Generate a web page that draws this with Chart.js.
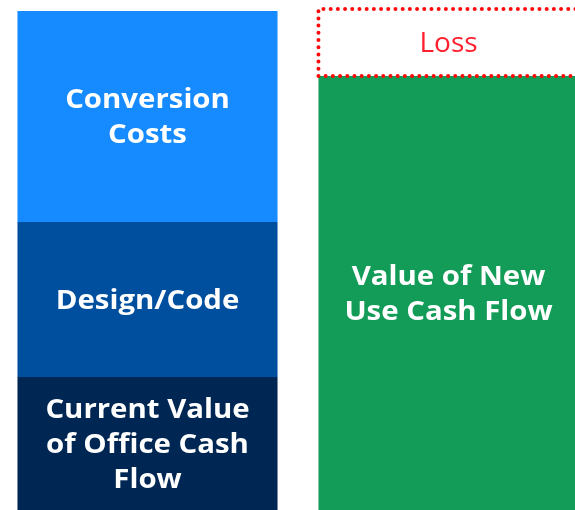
<!DOCTYPE html>
<html>
<head>
<meta charset="utf-8">
<script src="https://cdn.jsdelivr.net/npm/chart.js@4"></script>
<style>
  html, body { margin: 0; padding: 0; background: #fff; overflow: hidden; }
  #wrap { position: absolute; left: -3px; top: 0; width: 602px; height: 510px; }
</style>
</head>
<body>
<div id="wrap"><canvas id="myChart" width="602" height="510"></canvas></div>
<script>
const categories = ['Office Building', 'Converted Use'];

const officeCashFlow = [133, null];
const designCode = [155, null];
const conversionCosts = [211, null];
const newUseCashFlow = [null, 434];
const loss = [null, 67];

const segmentLabels = [
  ['Current Value', 'of Office Cash', 'Flow'],
  ['Design/Code'],
  ['Conversion', 'Costs'],
  ['Value of New', 'Use Cash Flow'],
  ['Loss']
];

// writes the segment names inside the bars and draws the dotted box round the loss
const barText = {
  id: 'barText',
  afterDatasetsDraw(chart) {
    const c = chart.ctx;
    chart.data.datasets.forEach((ds, i) => {
      const meta = chart.getDatasetMeta(i);
      meta.data.forEach((bar, j) => {
        if (ds.data[j] == null) return;
        const top = Math.min(bar.y, bar.base);
        const bottom = Math.max(bar.y, bar.base);
        const mid = (top + bottom) / 2 + 2;
        if (ds.dotted) {
          c.save();
          c.strokeStyle = '#ff0a0a';
          c.lineWidth = 4;
          c.lineCap = 'round';
          c.setLineDash([0, 7.2]);
          c.beginPath();
          c.moveTo(bar.x - bar.width / 2, bottom);
          c.lineTo(bar.x - bar.width / 2, top);
          c.lineTo(bar.x + bar.width / 2, top);
          c.moveTo(bar.x - bar.width / 2, bottom);
          c.lineTo(bar.x + bar.width / 2, bottom);
          c.stroke();
          c.restore();
        }
        const lines = segmentLabels[i];
        const lh = 35;
        lines.forEach((t, k) => {
          c.save();
          c.fillStyle = ds.textColor;
          c.font = ds.textFont;
          c.textAlign = 'center';
          c.textBaseline = 'middle';
          c.translate(bar.x, mid + (k - (lines.length - 1) / 2) * lh);
          c.scale(ds.textStretch, 1);
          c.fillText(t, 0, 0);
          c.restore();
        });
      });
    });
  }
};

const bold = 'bold 26px "Open Sans"';

const ctx = document.getElementById('myChart').getContext('2d');
const myChart = new Chart(ctx, {
  type: 'bar',
  data: {
    labels: categories,
    datasets: [
      { label: 'Current Value of Office Cash Flow', data: officeCashFlow, backgroundColor: '#002753', textColor: '#fff', textFont: bold, textStretch: 1.13 },
      { label: 'Design/Code', data: designCode, backgroundColor: '#004f9e', textColor: '#fff', textFont: bold, textStretch: 1.13 },
      { label: 'Conversion Costs', data: conversionCosts, backgroundColor: '#168bff', textColor: '#fff', textFont: bold, textStretch: 1.13 },
      { label: 'Value of New Use Cash Flow', data: newUseCashFlow, backgroundColor: '#139c57', textColor: '#fff', textFont: bold, textStretch: 1.13 },
      { label: 'Loss', data: loss, backgroundColor: '#ffffff', textColor: '#ff1f2f', textFont: '28px "Open Sans"', textStretch: 1.0, dotted: true }
    ]
  },
  options: {
    responsive: false,
    animation: false,
    layout: { padding: 0 },
    datasets: {
      bar: { categoryPercentage: 1, barPercentage: 0.864, borderWidth: 0 }
    },
    plugins: {
      legend: { display: false },
      tooltip: { enabled: false }
    },
    scales: {
      x: { stacked: true, display: false },
      y: { stacked: true, display: false, min: 0, max: 510 }
    }
  },
  plugins: [barText]
});
</script>
</body>
</html>
